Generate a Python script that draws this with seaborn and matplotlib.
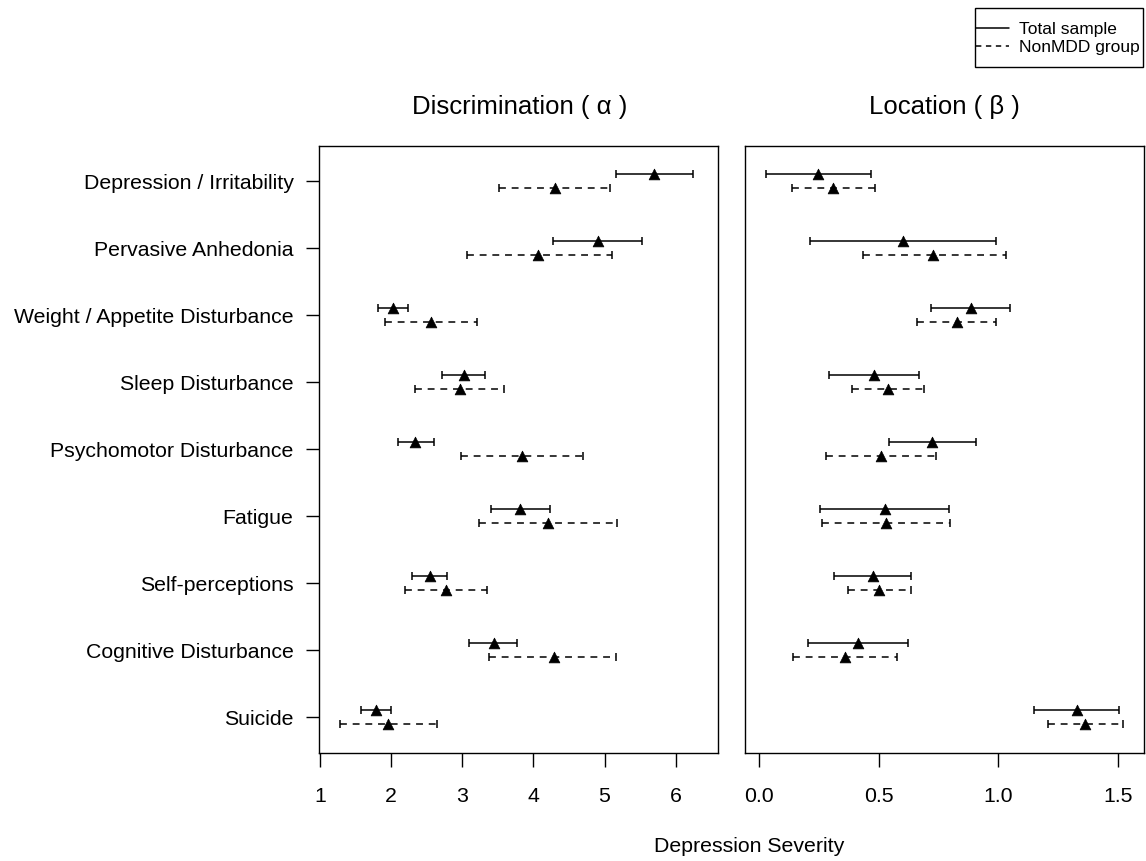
import numpy as np
import pandas as pd
import matplotlib
matplotlib.use("Agg")
import matplotlib.pyplot as plt
from matplotlib.lines import Line2D
from matplotlib.patches import Rectangle
import seaborn as sns

sns.set_theme(style="white")
plt.rcParams['font.family'] = ['Liberation Sans', 'DejaVu Sans']
plt.rcParams['text.color'] = 'black'
plt.rcParams['axes.labelcolor'] = 'black'
plt.rcParams['xtick.color'] = 'black'
plt.rcParams['ytick.color'] = 'black'

items = ["Depression / Irritability", "Pervasive Anhedonia", "Weight / Appetite Disturbance",
         "Sleep Disturbance", "Psychomotor Disturbance", "Fatigue", "Self-perceptions",
         "Cognitive Disturbance", "Suicide"]
groups = ["Total sample", "NonMDD group"]

# Discrimination (alpha)
alpha_total_est = [5.69, 4.91, 2.02, 3.02, 2.34, 3.81, 2.54, 3.44, 1.78]
alpha_total_lo  = [5.16, 4.28, 1.81, 2.72, 2.10, 3.40, 2.29, 3.09, 1.58]
alpha_total_hi  = [6.25, 5.52, 2.23, 3.32, 2.60, 4.23, 2.79, 3.77, 1.99]
alpha_non_est   = [4.30, 4.07, 2.56, 2.96, 3.84, 4.20, 2.77, 4.29, 1.96]
alpha_non_lo    = [3.52, 3.06, 1.91, 2.33, 2.98, 3.23, 2.19, 3.38, 1.28]
alpha_non_hi    = [5.08, 5.10, 3.21, 3.59, 4.70, 5.18, 3.35, 5.16, 2.65]

# Location (beta)
beta_total_est = [0.245, 0.602, 0.884, 0.480, 0.723, 0.524, 0.474, 0.413, 1.328]
beta_total_lo  = [0.028, 0.211, 0.718, 0.291, 0.541, 0.255, 0.314, 0.205, 1.151]
beta_total_hi  = [0.467, 0.992, 1.048, 0.668, 0.906, 0.793, 0.633, 0.622, 1.505]
beta_non_est   = [0.307, 0.728, 0.825, 0.537, 0.507, 0.530, 0.502, 0.360, 1.362]
beta_non_lo    = [0.137, 0.434, 0.659, 0.388, 0.279, 0.261, 0.369, 0.141, 1.207]
beta_non_hi    = [0.485, 1.030, 0.991, 0.690, 0.740, 0.799, 0.633, 0.574, 1.522]

alpha_ticks = [1, 2, 3, 4, 5, 6]
beta_ticks = [0.0, 0.5, 1.0, 1.5]

W, H = 1146, 861
fig = plt.figure(figsize=(W / 100, H / 100), dpi=100)

def px_axes(x0, y0, x1, y1):
    return fig.add_axes([x0 / W, 1 - y1 / H, (x1 - x0) / W, (y1 - y0) / H])

axL = px_axes(319, 146, 718, 753)
axR = px_axes(745, 146, 1144, 753)

ypos = np.arange(len(items))
offset = 0.104

def draw_panel(ax, series):
    rows = []
    for g, (est, lo, hi), off, ls in series:
        est = np.asarray(est); lo = np.asarray(lo); hi = np.asarray(hi)
        y = ypos + off
        eb = ax.errorbar(est, y, xerr=[est - lo, hi - est], fmt='none', ecolor='black',
                         elinewidth=1.1, capsize=2.7, capthick=1.1, zorder=2)
        for lc in eb[2]:
            if ls == 'dashed':
                lc.set_linestyle((0, (4.5, 3.8)))
        for y_i, e in zip(y, est):
            rows.append({"group": g, "est": e, "y": y_i})
    df = pd.DataFrame(rows)
    sns.scatterplot(data=df, x="est", y="y", marker="^", color="black", s=60,
                    edgecolor="black", linewidth=0.5, ax=ax, legend=False, zorder=3)
    ax.set_ylim(8.534, -0.527)
    for sp in ax.spines.values():
        sp.set_color("black")
        sp.set_linewidth(1.0)
    ax.set_xlabel("")
    ax.set_ylabel("")

draw_panel(axL, [
    ("Total sample", (alpha_total_est, alpha_total_lo, alpha_total_hi), -offset, 'solid'),
    ("NonMDD group", (alpha_non_est, alpha_non_lo, alpha_non_hi), offset, 'dashed'),
])
draw_panel(axR, [
    ("Total sample", (beta_total_est, beta_total_lo, beta_total_hi), -offset, 'solid'),
    ("NonMDD group", (beta_non_est, beta_non_lo, beta_non_hi), offset, 'dashed'),
])

axL.set_xlim(0.984, 6.595)
axL.set_xticks(alpha_ticks)
axL.set_xticklabels([str(t) for t in alpha_ticks])
axL.set_yticks(ypos)
axL.set_yticklabels(items)
axL.tick_params(axis='x', direction='out', length=10, width=1.0, pad=14.5, labelsize=15.3,
                bottom=True, colors='black')
axL.tick_params(axis='y', direction='out', length=9.4, width=1.0, pad=9, labelsize=15.3,
                left=True, colors='black')

axR.set_xlim(-0.0598, 1.609)
axR.set_xticks(beta_ticks)
axR.set_xticklabels(["0.0", "0.5", "1.0", "1.5"])
axR.set_yticks([])
axR.tick_params(axis='x', direction='out', length=10, width=1.0, pad=14.5, labelsize=15.3,
                bottom=True, colors='black')

fig.text(520 / W, 1 - 107 / H, "Discrimination ( α )", ha='center', va='center', fontsize=18.5)
fig.text(944.5 / W, 1 - 107 / H, "Location ( β )", ha='center', va='center', fontsize=18.5)
fig.text(749 / W, 1 - 846 / H, "Depression Severity", ha='center', va='center', fontsize=15.3)

# legend: box drawn as a frame, entries via legend without its own frame
box = Rectangle((975 / W, 1 - 67 / H), (1143 - 975) / W, (67 - 8) / H,
                transform=fig.transFigure, fill=False, edgecolor='black', linewidth=1.0)
fig.patches.append(box)
handles = [Line2D([0], [0], color='black', lw=1.1, linestyle='-'),
           Line2D([0], [0], color='black', lw=1.1, linestyle=(0, (3.5, 3.0)))]
leg = fig.legend(handles, groups, loc='center', bbox_to_anchor=(1058 / W, 1 - 38.5 / H),
                 frameon=False, fontsize=12.5,
                 handlelength=1.9, handletextpad=0.6, labelspacing=0.2,
                 borderpad=0.0, borderaxespad=0)

fig.savefig("out.png", dpi=100)
